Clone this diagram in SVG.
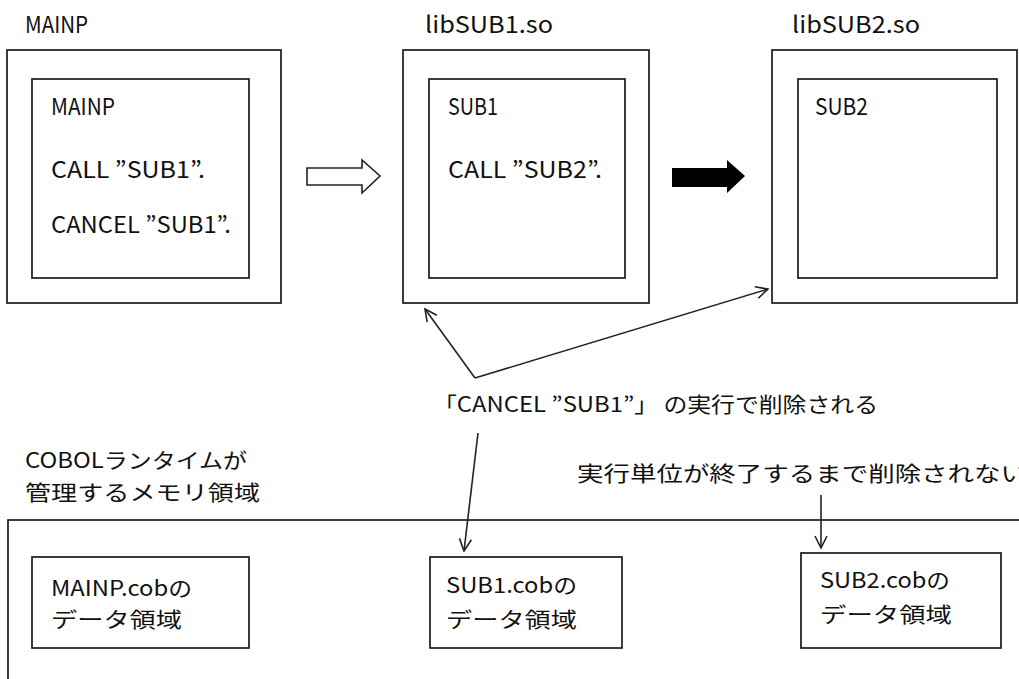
<svg xmlns="http://www.w3.org/2000/svg" width="1019" height="679" viewBox="0 0 1019 679">
<style>
.box{fill:#fff;stroke:#1a1a1a;stroke-width:1.7}
.t{font-family:"Noto Sans CJK JP","Liberation Sans",sans-serif;font-size:21px;fill:#111}
.l{font-size:23px}
.ln{fill:none;stroke:#222;stroke-width:1.6}
</style>
<defs>
<marker id="open" viewBox="0 0 14 14" refX="13" refY="7" markerWidth="14" markerHeight="14" markerUnits="userSpaceOnUse" orient="auto">
<path d="M1,1 L13,7 L1,13" fill="none" stroke="#222" stroke-width="1.6"/>
</marker>
</defs>
<rect width="1019" height="679" fill="#fff"/>
<g id="mainp">
<text class="t l" x="25" y="33" textLength="63" lengthAdjust="spacingAndGlyphs">MAINP</text>
<rect class="box" x="7" y="50" width="274" height="253"/>
<rect class="box" x="32" y="79" width="217" height="199"/>
<text class="t l" x="51" y="115" textLength="64" lengthAdjust="spacingAndGlyphs">MAINP</text>
<text class="t l" x="51" y="178" textLength="154" lengthAdjust="spacingAndGlyphs">CALL ”SUB1”.</text>
<text class="t l" x="51" y="233" textLength="180" lengthAdjust="spacingAndGlyphs">CANCEL ”SUB1”.</text>
</g>
<g id="libsub1">
<text class="t l" x="425" y="33" textLength="128" lengthAdjust="spacingAndGlyphs">libSUB1.so</text>
<rect class="box" x="403" y="50" width="246" height="253"/>
<rect class="box" x="429" y="79" width="196" height="199"/>
<text class="t l" x="448" y="115" textLength="50" lengthAdjust="spacingAndGlyphs">SUB1</text>
<text class="t l" x="448" y="178" textLength="154" lengthAdjust="spacingAndGlyphs">CALL ”SUB2”.</text>
</g>
<g id="libsub2">
<text class="t l" x="792" y="33" textLength="128" lengthAdjust="spacingAndGlyphs">libSUB2.so</text>
<rect class="box" x="772" y="50" width="245" height="253"/>
<rect class="box" x="798" y="79" width="199" height="199"/>
<text class="t l" x="815" y="115" textLength="53" lengthAdjust="spacingAndGlyphs">SUB2</text>
</g>
<g id="memory">
<text class="t" x="25" y="468" textLength="222" lengthAdjust="spacingAndGlyphs">COBOLランタイムが</text>
<text class="t" x="25" y="500" textLength="235" lengthAdjust="spacingAndGlyphs">管理するメモリ領域</text>
<rect class="box" x="8" y="520" width="1030" height="200"/>
</g>
<g id="mainpdata">
<rect class="box" x="32" y="557" width="217" height="91"/>
<text class="t" x="51" y="596" textLength="141" lengthAdjust="spacingAndGlyphs">MAINP.cobの</text>
<text class="t" x="51" y="627" textLength="131" lengthAdjust="spacingAndGlyphs">データ領域</text>
</g>
<g id="sub1data">
<rect class="box" x="430" y="557" width="192" height="91"/>
<text class="t" x="446" y="593" textLength="131" lengthAdjust="spacingAndGlyphs">SUB1.cobの</text>
<text class="t" x="446" y="627" textLength="131" lengthAdjust="spacingAndGlyphs">データ領域</text>
</g>
<g id="sub2data">
<rect class="box" x="801" y="553" width="200" height="95"/>
<text class="t" x="820" y="588" textLength="130" lengthAdjust="spacingAndGlyphs">SUB2.cobの</text>
<text class="t" x="820" y="622" textLength="132" lengthAdjust="spacingAndGlyphs">データ領域</text>
</g>
<g id="labels">
<text class="t" x="433" y="412" textLength="445" lengthAdjust="spacingAndGlyphs">「CANCEL ”SUB1”」 の実行で削除される</text>
<text class="t" x="577" y="481" textLength="450" lengthAdjust="spacingAndGlyphs">実行単位が終了するまで削除されない</text>
</g>
<g id="connectors">
<polygon points="307,168 362,168 362,160 380,176 362,193 362,185 307,185" fill="#fff" stroke="#222" stroke-width="1.6"/>
<polygon points="672,168 727,168 727,160 745,176 727,193 727,187 672,187" fill="#000"/>
<path class="ln" d="M475,378 L425,309" marker-end="url(#open)"/>
<path class="ln" d="M475,378 L768,289" marker-end="url(#open)"/>
<path class="ln" d="M478,433 L464,551" marker-end="url(#open)"/>
<path class="ln" d="M821,495 L821,548" marker-end="url(#open)"/>
</g>
</svg>
